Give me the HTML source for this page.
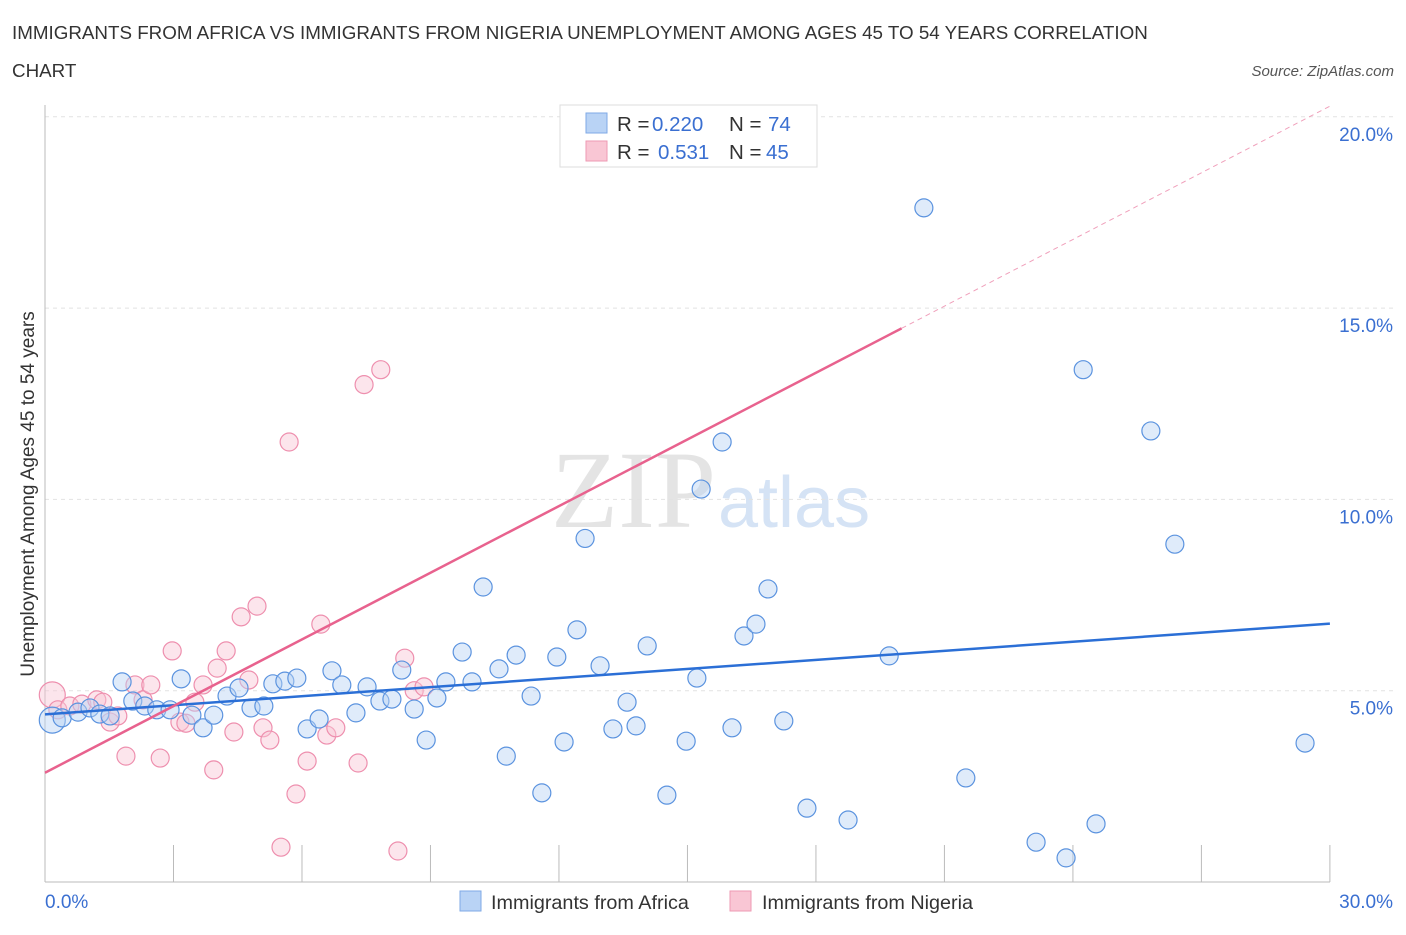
<!DOCTYPE html>
<html><head><meta charset="utf-8"><style>
body{margin:0;background:#fff;font-family:"Liberation Sans",sans-serif}
</style></head><body>
<svg id="chart" width="1406" height="930" xmlns="http://www.w3.org/2000/svg">
<text x="12" y="39" font-size="18.8" fill="#333">IMMIGRANTS FROM AFRICA VS IMMIGRANTS FROM NIGERIA UNEMPLOYMENT AMONG AGES 45 TO 54 YEARS CORRELATION</text>
<text x="12" y="77" font-size="18.8" fill="#333">CHART</text>
<text x="1394" y="76" font-size="15" fill="#555" font-style="italic" text-anchor="end">Source: ZipAtlas.com</text>
<text x="716" y="527" font-size="110" fill="#e4e4e4" text-anchor="end" font-family="Liberation Serif">ZIP</text>
<text x="718" y="527" font-size="72" fill="#d5e3f5">atlas</text>
<g id="grid"></g>
<g id="axes"></g>
<g id="pts"></g>
<g id="lines"></g>
<text transform="translate(34,494) rotate(-90)" font-size="19" fill="#333" text-anchor="middle">Unemployment Among Ages 45 to 54 years</text>
<text x="45" y="908" font-size="19" fill="#3a6fd1">0.0%</text>
<text x="1393" y="908" font-size="19" fill="#3a6fd1" text-anchor="end">30.0%</text>
<g>
<rect x="560" y="105" width="257" height="62" fill="#fff" stroke="#ddd"/>
<rect x="586" y="113" width="21" height="20" fill="#b9d3f5" stroke="#7fa9e6"/>
<rect x="586" y="141" width="21" height="20" fill="#f9c6d4" stroke="#ee9ab3"/>
<text x="617" y="131" font-size="20.5" fill="#333">R = <tspan fill="#3a6fd1" x="652">0.220</tspan><tspan x="729">N = </tspan><tspan fill="#3a6fd1" x="768">74</tspan></text>
<text x="617" y="159" font-size="20.5" fill="#333">R = <tspan fill="#3a6fd1" x="658">0.531</tspan><tspan x="729">N = </tspan><tspan fill="#3a6fd1" x="766">45</tspan></text>
</g>
<g>
<rect x="460" y="891" width="21" height="20" fill="#b9d3f5" stroke="#7fa9e6"/>
<text x="491" y="909" font-size="19.8" fill="#333">Immigrants from Africa</text>
<rect x="730" y="891" width="21" height="20" fill="#f9c6d4" stroke="#ee9ab3"/>
<text x="762" y="909" font-size="19.8" fill="#333">Immigrants from Nigeria</text>
</g>
</svg>
<script>
const yTicks=[5,10,15,20];
const xTicks=[3,6,9,12,15,18,21,24,27,30];
const africaX=[0.17,0.40,0.77,1.05,1.28,1.52,1.80,2.05,2.33,2.61,2.92,3.18,3.43,3.69,3.94,4.25,4.53,4.81,5.11,5.32,5.60,5.88,6.12,6.40,6.70,6.93,7.26,7.52,7.82,8.10,8.33,8.62,8.90,9.15,9.36,9.74,9.97,10.23,10.60,10.77,11.00,11.35,11.60,11.95,12.12,12.42,12.61,12.96,13.26,13.59,13.80,14.06,14.52,14.97,15.22,15.32,15.81,16.04,16.32,16.60,16.88,17.25,17.79,18.75,19.71,20.52,21.50,23.14,23.84,24.24,24.54,25.82,26.38,29.42];
const africaY=[4.23,4.29,4.44,4.55,4.39,4.34,5.23,4.73,4.60,4.50,4.50,5.31,4.36,4.03,4.36,4.86,5.07,4.55,4.60,5.18,5.25,5.33,4.00,4.26,5.52,5.15,4.42,5.10,4.73,4.78,5.54,4.52,3.71,4.81,5.23,6.01,5.23,7.71,5.57,3.29,5.93,4.86,2.33,5.88,3.66,6.59,8.98,5.65,4.00,4.70,4.08,6.17,2.27,3.68,5.33,10.27,11.50,4.03,6.43,6.74,7.66,4.21,1.93,1.62,5.91,17.62,2.72,1.04,0.63,13.39,1.52,11.79,8.83,3.63];
const nigeriaX=[0.17,0.30,0.58,0.86,1.21,1.35,1.52,1.70,1.89,2.10,2.29,2.47,2.69,2.97,3.15,3.29,3.50,3.69,3.94,4.02,4.23,4.41,4.58,4.76,4.95,5.09,5.25,5.51,5.70,5.86,6.12,6.44,6.58,6.79,7.31,7.45,7.84,8.24,8.40,8.62,8.85,16.69];
const nigeriaY=[4.89,4.50,4.60,4.65,4.76,4.70,4.18,4.34,3.29,5.15,4.76,5.15,3.24,6.04,4.18,4.15,4.70,5.15,2.93,5.59,6.04,3.92,6.93,5.28,7.21,4.03,3.71,0.91,11.50,2.30,3.16,6.74,3.84,4.03,3.11,13.00,13.39,0.81,5.85,5.00,5.10,19.97];
const X=v=>45+v*42.83, Y=v=>882-v*38.26;
const NS='http://www.w3.org/2000/svg';
function mk(tag,attrs,parent){const e=document.createElementNS(NS,tag);for(const k in attrs)e.setAttribute(k,attrs[k]);document.getElementById(parent).appendChild(e);return e;}
yTicks.forEach(t=>{
 const l=mk('line',{x1:45,x2:1394,y1:Y(t),y2:Y(t),stroke:'#e2e2e2','stroke-dasharray':'4,4'},'grid');
 
 
 const tx=mk('text',{x:1393,y:Y(t)+24,'font-size':19,fill:'#3a6fd1','text-anchor':'end'},'grid');
 tx.textContent=t.toFixed(1)+'%';
 
 
});
let a=mk('line',{x1:45,x2:45,y1:105,y2:882,stroke:'#bbb'},'axes');


a=mk('line',{x1:45,x2:1330,y1:882,y2:882,stroke:'#bbb'},'axes');


xTicks.forEach(t=>{
 const l=mk('line',{x1:X(t),x2:X(t),y1:845,y2:882,stroke:'#bbb'},'axes');
 
 
});
function dots(xs,ys,fill,stroke,name){
 xs.forEach((x,i)=>{
  const r=i==0?13:9;
  const c=mk('circle',{cx:X(x),cy:Y(ys[i]),r:r,fill:fill,'fill-opacity':0.45,stroke:stroke,'stroke-width':1.2},'pts');
  
  
 });
}
dots(nigeriaX,nigeriaY,'#f9c6d4','#ee8fae','nigeria');
dots(africaX,africaY,'#b9d3f5','#5b93df','africa');
function fit(xs,ys){const n=xs.length;let mx=0,my=0;xs.forEach((x,i)=>{mx+=x;my+=ys[i]});mx/=n;my/=n;let sxy=0,sxx=0;xs.forEach((x,i)=>{sxy+=(x-mx)*(ys[i]-my);sxx+=(x-mx)**2});const b=sxy/sxx;return [my-b*mx,b];}
let [ab,as]=fit(africaX,africaY);
let l=mk('line',{x1:X(0),y1:Y(ab),x2:X(30),y2:Y(ab+as*30),stroke:'#2b6fd6','stroke-width':2.5},'lines');


let [nb,ns]=fit(nigeriaX,nigeriaY);
nb+=0.13;
l=mk('line',{x1:X(0),y1:Y(nb),x2:X(20),y2:Y(nb+ns*20),stroke:'#e8628e','stroke-width':2.5},'lines');


l=mk('line',{x1:X(20),y1:Y(nb+ns*20),x2:X(30),y2:Y(nb+ns*30),stroke:'#f0a0bb','stroke-width':1,'stroke-dasharray':'5,4'},'lines');


</script>
</body></html>
